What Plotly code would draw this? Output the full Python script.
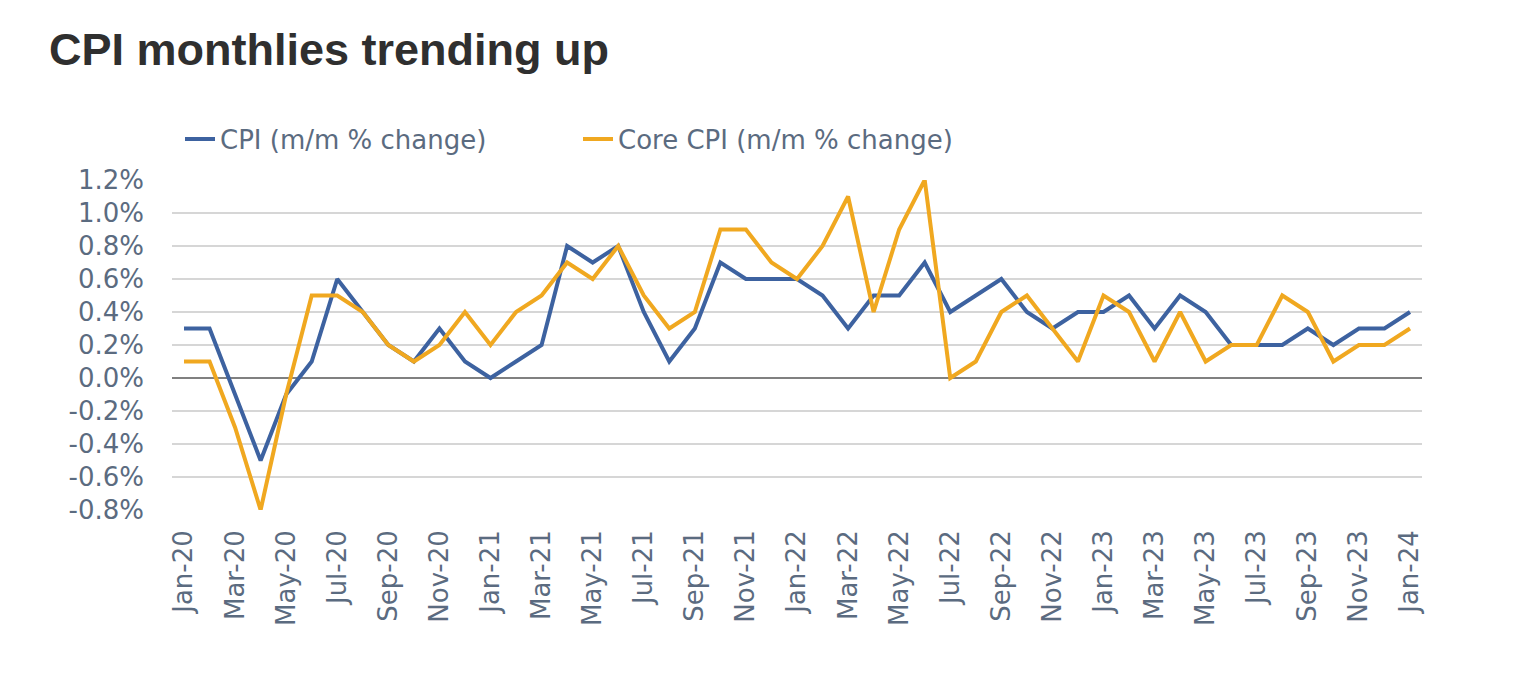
import plotly.graph_objects as go

months = ["Jan-20","Feb-20","Mar-20","Apr-20","May-20","Jun-20","Jul-20","Aug-20","Sep-20","Oct-20","Nov-20","Dec-20",
          "Jan-21","Feb-21","Mar-21","Apr-21","May-21","Jun-21","Jul-21","Aug-21","Sep-21","Oct-21","Nov-21","Dec-21",
          "Jan-22","Feb-22","Mar-22","Apr-22","May-22","Jun-22","Jul-22","Aug-22","Sep-22","Oct-22","Nov-22","Dec-22",
          "Jan-23","Feb-23","Mar-23","Apr-23","May-23","Jun-23","Jul-23","Aug-23","Sep-23","Oct-23","Nov-23","Dec-23",
          "Jan-24"]

cpi = [0.3, 0.3, -0.1, -0.5, -0.1, 0.1, 0.6, 0.4, 0.2, 0.1, 0.3, 0.1,
       0.0, 0.1, 0.2, 0.8, 0.7, 0.8, 0.4, 0.1, 0.3, 0.7, 0.6, 0.6,
       0.6, 0.5, 0.3, 0.5, 0.5, 0.7, 0.4, 0.5, 0.6, 0.4, 0.3, 0.4,
       0.4, 0.5, 0.3, 0.5, 0.4, 0.2, 0.2, 0.2, 0.3, 0.2, 0.3, 0.3,
       0.4]

core_cpi = [0.1, 0.1, -0.3, -0.8, -0.1, 0.5, 0.5, 0.4, 0.2, 0.1, 0.2, 0.4,
            0.2, 0.4, 0.5, 0.7, 0.6, 0.8, 0.5, 0.3, 0.4, 0.9, 0.9, 0.7,
            0.6, 0.8, 1.1, 0.4, 0.9, 1.2, 0.0, 0.1, 0.4, 0.5, 0.3, 0.1,
            0.5, 0.4, 0.1, 0.4, 0.1, 0.2, 0.2, 0.5, 0.4, 0.1, 0.2, 0.2,
            0.3]

tick_labels = months[::2]
y_ticks = [-0.8, -0.6, -0.4, -0.2, 0.0, 0.2, 0.4, 0.6, 0.8, 1.0, 1.2]

BLUE = "#3d62a0"
GOLD = "#f0a820"
TXT = "#5b6b80"
FONT = "DejaVu Sans"

fig = go.Figure()
fig.add_trace(go.Scatter(x=months, y=cpi, mode="lines", name="CPI (m/m % change)",
                         line=dict(color=BLUE, width=4)))
fig.add_trace(go.Scatter(x=months, y=core_cpi, mode="lines", name="Core CPI (m/m % change)",
                         line=dict(color=GOLD, width=4)))

fig.update_layout(
    width=1516, height=696,
    paper_bgcolor="white", plot_bgcolor="white",
    margin=dict(l=164, r=102, t=172, b=194, autoexpand=False),
    title=dict(text="<b>CPI monthlies trending up</b>", x=41/1516, xref="container", xanchor="left",
               y=1-41/696, yref="container", yanchor="middle",
               font=dict(family="Liberation Sans", size=45, color="#2f2f2f")),
    legend=dict(orientation="h", xref="container", yref="container",
                x=172/1516, xanchor="left", y=1-131/696, yanchor="middle",
                font=dict(family=FONT, size=26, color=TXT),
                entrywidth=353, itemwidth=30, bgcolor="rgba(0,0,0,0)"),
    font=dict(family=FONT, color=TXT),
)

fig.update_xaxes(
    type="category", range=[-0.47, 48.47], automargin=False,
    tickmode="array", tickvals=tick_labels, ticktext=tick_labels,
    tickangle=-90, tickfont=dict(family=FONT, size=26, color=TXT),
    showgrid=False, showline=False, zeroline=False, ticks="", ticklabelstandoff=14,
)
fig.update_yaxes(
    range=[-0.8, 1.2], tickmode="array", tickvals=y_ticks, automargin=False,
    ticktext=[f"{v:.1f}%" for v in y_ticks],
    tickfont=dict(family=FONT, size=26, color=TXT),
    showgrid=True, gridcolor="#d6d6d6", gridwidth=2,
    zeroline=True, zerolinecolor="#808080", zerolinewidth=2,
    showline=False, ticks="", ticklabelstandoff=27,
)

fig.write_html("out.html")
